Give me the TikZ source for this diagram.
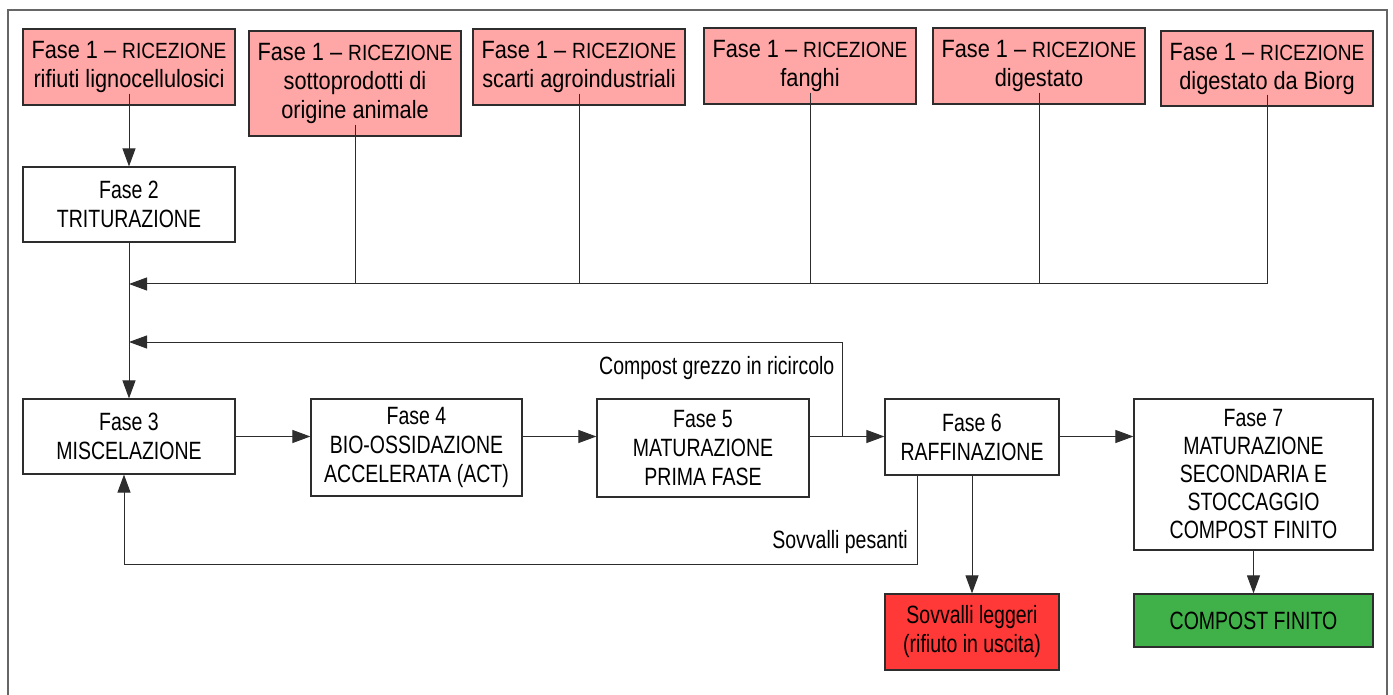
\documentclass[tikz,border=0pt]{standalone}
\usepackage{fontspec}
\setmainfont{Liberation Sans}[FakeStretch=0.78]
\newfontfamily\widefam{Liberation Sans}[FakeStretch=0.87, Ligatures=TeX]
\usetikzlibrary{arrows.meta,calc}
\definecolor{pinkbox}{RGB}{255,166,166}
\definecolor{redbox}{RGB}{255,56,56}
\definecolor{greenbox}{RGB}{64,176,72}
\definecolor{edgec}{RGB}{45,45,45}
\newcommand\ricez{{\fontsize{22}{29}\selectfont RICEZIONE}}
\begin{document}
\begin{tikzpicture}[x=1pt,y=-1pt,
  box/.style={draw=edgec, line width=1.2pt, inner sep=0pt, align=center, font=\fontsize{25}{29}\selectfont},
  recv/.style={box, fill=pinkbox, minimum width=212pt, minimum height=76pt, font=\widefam\fontsize{25}{29}\selectfont},
  link/.style={draw=edgec, line width=1pt},
  arr/.style={link, -{Triangle[length=18pt,width=13pt]}},
  lbl/.style={font=\fontsize{25}{29}\selectfont, inner sep=0pt}
]
\useasboundingbox (0,0) rectangle (1393,695);
\draw[black!60, line width=1.6pt] (8,695) -- (8,10) -- (1387,10) -- (1387,695);

% reception boxes
\node[recv] (b1a) at (129,67) {Fase 1 – \ricez\\rifiuti lignocellulosici};
\node[recv, minimum height=105pt] (b1b) at (355,83.5) {Fase 1 – \ricez\\sottoprodotti di\\origine animale};
\node[recv] (b1c) at (579,67) {Fase 1 – \ricez\\scarti agroindustriali};
\node[recv] (b1d) at (810,66) {Fase 1 – \ricez\\fanghi};
\node[recv] (b1e) at (1039,66) {Fase 1 – \ricez\\digestato};
\node[recv, minimum height=75pt] (b1f) at (1267,68.5) {Fase 1 – \ricez\\digestato da Biorg};

% process boxes
\node[box, minimum width=212pt, minimum height=75pt] (f2) at (129,204.5) {Fase 2\\TRITURAZIONE};
\node[box, minimum width=212pt, minimum height=75pt] (f3) at (129,436.5) {Fase 3\\MISCELAZIONE};
\node[box, minimum width=211pt, minimum height=97pt] (f4) at (416.5,447.5) {Fase 4\\BIO-OSSIDAZIONE\\ACCELERATA (ACT)};
\node[box, minimum width=212pt, minimum height=98pt] (f5) at (703,448) {Fase 5\\MATURAZIONE\\PRIMA FASE};
\node[box, minimum width=174pt, minimum height=76pt] (f6) at (972,437) {Fase 6\\RAFFINAZIONE};
\node[box, minimum width=239pt, minimum height=151pt, font=\fontsize{25}{28}\selectfont] (f7) at (1253.5,474.5) {Fase 7\\MATURAZIONE\\SECONDARIA E\\STOCCAGGIO\\COMPOST FINITO};
\node[box, fill=redbox, minimum width=174pt, minimum height=76pt] (sl) at (972,632) {Sovvalli leggeri\\(rifiuto in uscita)};
\node[box, fill=greenbox, minimum width=239pt, minimum height=53pt] (cf) at (1253.5,620.5) {COMPOST FINITO};

% labels
\node[lbl, anchor=base west] (lrc) at (599,374) {Compost grezzo in ricircolo};
\node[lbl, anchor=base east] (lsp) at (908,548) {Sovvalli pesanti};

% collector
\coordinate (col) at (129,284);
\draw[arr] ($(b1a.south)+(0,-12)$) -- (f2.north);
\foreach \n in {b1b,b1c,b1d,b1e}
  \draw[link] ($(\n.south)+(0,-12)$) -- (\n.south |- col);
\draw[arr] ($(b1f.south)+(0,-12)$) |- (col);
\draw[arr] (f2.south) -- (f3.north);

% main row
\draw[arr] (f3.east) -- (f3.east -| f4.west);
\draw[arr] (f4.east |- f3.east) -- (f3.east -| f5.west);
\draw[arr] (f5.east |- f3.east) -- (f3.east -| f6.west);
\draw[arr] (f6.east |- f3.east) -- (f3.east -| f7.west);

% recirculation
\coordinate (rcs) at (842,436.5);
\coordinate (rce) at (129,342);
\draw[arr] (rcs) |- (rce);

% heavy oversize
\coordinate (spc) at (124,564);
\draw[arr] ([xshift=-55pt]f6.south) |- (spc) -- (spc |- f3.south);

% outputs
\draw[arr] (f6.south) -- (sl.north);
\draw[arr] (f7.south) -- (cf.north);
\end{tikzpicture}
\end{document}
